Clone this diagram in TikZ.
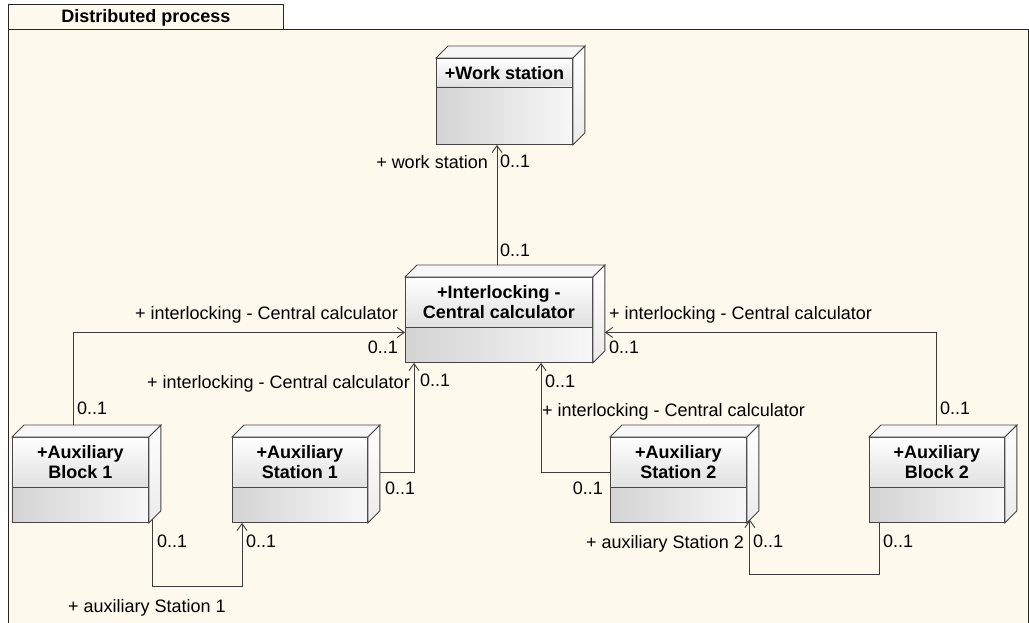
\documentclass[tikz,border=0pt]{standalone}
\usepackage{fontspec}
\setmainfont{Liberation Sans}
\usetikzlibrary{arrows.meta,calc}

\definecolor{paper}{RGB}{254,249,237}
\definecolor{edge}{RGB}{70,70,70}
\definecolor{wire}{RGB}{60,60,60}

\tikzset{
  frameline/.style={draw=black!85, line width=1pt},
  face/.style={draw=edge, line width=0.9pt},
  frontface/.style={face, rectangle, inner sep=0pt, anchor=north west},
  titlefill/.style={top color=white, bottom color=black!12},
  bodyfill/.style={left color=black!17, right color=black!3},
  topfill/.style={fill=black!3},
  sidefill/.style={top color=white, bottom color=black!8},
  nodetitle/.style={font=\fontsize{18}{20.5}\selectfont\bfseries, align=center, inner sep=0pt},
  lbl/.style={font=\fontsize{18}{20.5}\selectfont, inner sep=0pt},
  assoc/.style={draw=wire, line width=0.9pt, -{Straight Barb[length=7pt,width=10pt,line width=0.9pt]}},
}

% #1 name, #2 x, #3 y, #4 width, #5 height, #6 title compartment height,
% #7 title centre offset, #8 title
\newcommand\umlbox[8]{%
  \node[frontface, minimum width=#4pt, minimum height=#5pt] (#1) at (#2,#3) {};
  \path[titlefill] (#1.north west) rectangle ($(#1.north east)+(0,#6)$);
  \path[bodyfill] ($(#1.north west)+(0,#6)$) rectangle (#1.south east);
  \draw[face] (#1.north west) rectangle (#1.south east);
  \draw[face] ($(#1.north west)+(0,#6)$) -- ($(#1.north east)+(0,#6)$);
  \draw[face, topfill] (#1.north west) -- ++(12,-12) -- ($(#1.north east)+(12,-12)$)
        -- (#1.north east) -- cycle;
  \draw[face, sidefill] (#1.north east) -- ++(12,-12) -- ($(#1.south east)+(12,-12)$)
        -- (#1.south east) -- cycle;
  \node[nodetitle] at ($(#1.north)+(0,#7)$) {#8};
}

\begin{document}
\begin{tikzpicture}[x=1pt, y=-1pt]
  \useasboundingbox (0,0) rectangle (1029,623);
  \clip (0,0) rectangle (1029,623);

  % package frame with its name tab
  \fill[white] (0,0) rectangle (1029,623);
  \fill[paper] (8,30) rectangle (1028,640);
  \fill[paper] (8,5) rectangle (283,30);
  \draw[frameline] (8,640) -- (8,5) -- (283,5) -- (283,30);
  \draw[frameline] (8,30) -- (1028,30) -- (1028,640);
  \node[nodetitle, anchor=base] (pkg) at (146,23) {Distributed process};

  % deployment nodes
  \umlbox{ws}{436}{58}{136}{86}{29}{15}{+Work station}
  \umlbox{il}{405}{277}{187}{85}{50}{25}{+Interlocking -\\Central calculator}
  \umlbox{b1}{12}{437}{136}{85}{50}{25}{+Auxiliary\\Block 1}
  \umlbox{s1}{232}{437}{135}{85}{50}{25}{+Auxiliary\\Station 1}
  \umlbox{s2}{610}{437}{136}{85}{50}{25}{+Auxiliary\\Station 2}
  \umlbox{b2}{869}{437}{135}{85}{50}{25}{+Auxiliary\\Block 2}

  % associations
  \draw[assoc] ($(il.north west)+(92,-12)$) -- ($(ws.south west)+(61,0)$);
  \draw[assoc] ($(b1.north west)+(61,-12)$) |- ($(il.west)+(0,12.5)$);
  \draw[assoc] ($(s1.east)+(12,-7.5)$) -| ($(il.south west)+(9,0)$);
  \draw[assoc] ($(s2.west)+(0,-7.5)$) -| ($(il.south west)+(136,0)$);
  \draw[assoc] ($(b2.north west)+(67,-12)$) |- ($(il.east)+(12,12.5)$);
  \draw[assoc] ($(b1.south east)+(4,-4)$) -- ++(0,68) -| ($(s1.south west)+(10,0)$);
  \draw[assoc] ($(b2.south west)+(10,0)$) -- ++(0,52) -| ($(s2.south east)+(3,-3)$);

  % role names and multiplicities
  \node[lbl, anchor=base east] (l1) at (488,169) {+ work station};
  \node[lbl, anchor=base west] (m1) at (500,168) {0..1};
  \node[lbl, anchor=base west] (m2) at (500,256) {0..1};

  \node[lbl, anchor=base east] (l2) at (398,319) {+ interlocking - Central calculator};
  \node[lbl, anchor=base east] (m3) at (398,353) {0..1};
  \node[lbl, anchor=base west] (m4) at (77,414) {0..1};

  \node[lbl, anchor=base east] (l3) at (410,388) {+ interlocking - Central calculator};
  \node[lbl, anchor=base west] (m5) at (420,386) {0..1};
  \node[lbl, anchor=base west] (m6) at (385,494) {0..1};

  \node[lbl, anchor=base west] (m7) at (545,387) {0..1};
  \node[lbl, anchor=base west] (l4) at (542,416) {+ interlocking - Central calculator};
  \node[lbl, anchor=base east] (m8) at (603,494) {0..1};

  \node[lbl, anchor=base west] (l5) at (609,319) {+ interlocking - Central calculator};
  \node[lbl, anchor=base west] (m9) at (609,353) {0..1};
  \node[lbl, anchor=base west] (m10) at (940,414) {0..1};

  \node[lbl, anchor=base west] (m11) at (157,547) {0..1};
  \node[lbl, anchor=base west] (m12) at (246,547) {0..1};
  \node[lbl, anchor=base west] (l6) at (68,612) {+ auxiliary Station 1};

  \node[lbl, anchor=base east] (l7) at (744,548) {+ auxiliary Station 2};
  \node[lbl, anchor=base west] (m13) at (753,547) {0..1};
  \node[lbl, anchor=base west] (m14) at (883,547) {0..1};
\end{tikzpicture}
\end{document}
